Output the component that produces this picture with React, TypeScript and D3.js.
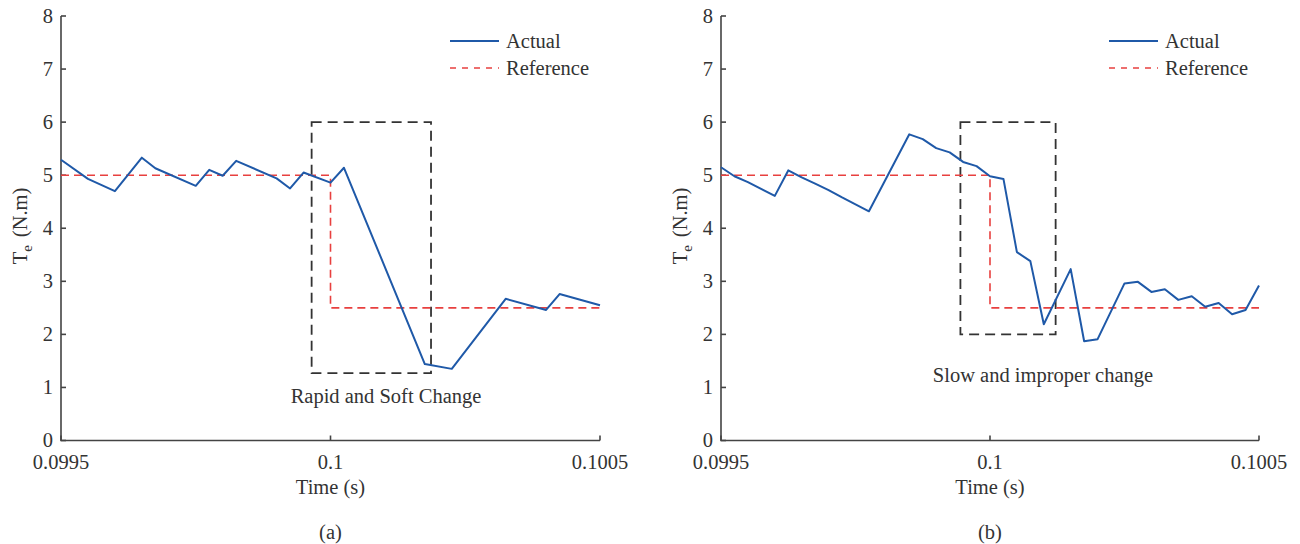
import React from "react";
import * as d3 from "d3";

// Electromagnetic torque response around the step at t = 0.1 s
const leftTime = [
  0.0995, 0.09955, 0.0996, 0.09965, 0.099675, 0.09975, 0.099775, 0.0998, 0.099825, 0.0999,
  0.099925, 0.09995, 0.1, 0.100025, 0.100175, 0.100225, 0.100325, 0.1004, 0.100425, 0.1005,
];
const leftActual = [
  5.29, 4.93, 4.7, 5.33, 5.13, 4.8, 5.1, 4.99, 5.27, 4.94,
  4.75, 5.05, 4.86, 5.14, 1.44, 1.35, 2.67, 2.46, 2.76, 2.55,
];

const rightTime = [
  0.0995, 0.099525, 0.09955, 0.0996, 0.099625, 0.09965, 0.099675, 0.0997, 0.099725, 0.09975,
  0.099775, 0.09985, 0.099875, 0.0999, 0.099925, 0.09995, 0.099975, 0.1, 0.100025, 0.10005,
  0.100075, 0.1001, 0.10015, 0.100175, 0.1002, 0.10025, 0.100275, 0.1003, 0.100325, 0.10035,
  0.100375, 0.1004, 0.100425, 0.10045, 0.100475, 0.1005,
];
const rightActual = [
  5.15, 4.98, 4.87, 4.61, 5.09, 4.96, 4.84, 4.72, 4.58, 4.45,
  4.32, 5.77, 5.68, 5.51, 5.43, 5.25, 5.17, 4.98, 4.93, 3.55,
  3.38, 2.19, 3.23, 1.87, 1.91, 2.96, 2.99, 2.8, 2.85, 2.65,
  2.72, 2.52, 2.59, 2.38, 2.46, 2.92,
];

// Reference torque step
const refTime = [0.0995, 0.1, 0.1, 0.1005];
const refValue = [5, 5, 2.5, 2.5];

const xTicks = [0.0995, 0.1, 0.1005];
const xTickLabels = ["0.0995", "0.1", "0.1005"];
const yTicks = [0, 1, 2, 3, 4, 5, 6, 7, 8];

// Highlight windows [t0, t1, v0, v1]
const leftWindow = [0.099965, 0.1001865, 1.27, 6.0];
const rightWindow = [0.099945, 0.100122, 2.0, 6.0];

const seriesNames = ["Actual", "Reference"];

const FONT = "'Liberation Serif', 'Times New Roman', serif";
const FS = 20.5;
const TEXT = "#333";
const AXIS = "#444";
const BLUE = "#1f59a8";
const RED = "#e8403f";

type PanelProps = {
  x0: number;
  x1: number;
  time: number[];
  actual: number[];
  win: number[];
  note: string;
  noteX: number;
  noteY: number;
  tag: string;
};

function Panel({ x0, x1, time, actual, win, note, noteX, noteY, tag }: PanelProps) {
  const x = d3.scaleLinear().domain([0.0995, 0.1005]).range([x0, x1]);
  const y = d3.scaleLinear().domain([0, 8]).range([440.5, 16]);
  const line = d3
    .line<[number, number]>()
    .x((d) => x(d[0]))
    .y((d) => y(d[1]));
  const actualPts = time.map((t, i) => [t, actual[i]] as [number, number]);
  const refPts = refTime.map((t, i) => [t, refValue[i]] as [number, number]);
  const mid = x(0.1);
  const legX = x1 - 150;

  return (
    <g fontFamily={FONT} fill={TEXT}>
      {/* axes */}
      <path
        d={`M${x0},${y(8)}V${y(0)}H${x1}`}
        fill="none"
        stroke={AXIS}
        strokeWidth={1.6}
      />
      {yTicks.map((v) => (
        <g key={v}>
          <line x1={x0} x2={x0 + 5} y1={y(v)} y2={y(v)} stroke={AXIS} strokeWidth={1.6} />
          <text x={x0 - 8} y={y(v) + 6.5} textAnchor="end" fontSize={FS}>
            {v}
          </text>
        </g>
      ))}
      {xTicks.map((t, i) => (
        <g key={t}>
          <line x1={x(t)} x2={x(t)} y1={y(0)} y2={y(0) - 5} stroke={AXIS} strokeWidth={1.6} />
          <text x={x(t)} y={469} textAnchor="middle" fontSize={FS}>
            {xTickLabels[i]}
          </text>
        </g>
      ))}
      <text x={mid} y={494} textAnchor="middle" fontSize={FS}>
        Time (s)
      </text>
      <text x={mid} y={539} textAnchor="middle" fontSize={FS}>
        {tag}
      </text>
      <text
        transform={`translate(${x0 - 34},${226}) rotate(-90)`}
        textAnchor="middle"
        fontSize={FS}
      >
        T<tspan fontSize={15} dy={5}>e</tspan>
        <tspan dy={-5} dx={8}>(N.m)</tspan>
      </text>

      {/* highlight window */}
      <rect
        x={x(win[0])}
        y={y(win[3])}
        width={x(win[1]) - x(win[0])}
        height={y(win[2]) - y(win[3])}
        fill="none"
        stroke="#333"
        strokeWidth={1.8}
        strokeDasharray="10,6"
      />

      {/* series */}
      <path d={line(refPts) ?? ""} fill="none" stroke={RED} strokeWidth={1.6} strokeDasharray="8,5" />
      <path d={line(actualPts) ?? ""} fill="none" stroke={BLUE} strokeWidth={2} strokeLinejoin="round" />

      <text x={noteX} y={noteY} textAnchor="middle" fontSize={FS}>
        {note}
      </text>

      {/* legend */}
      <line x1={legX} x2={legX + 49} y1={41} y2={41} stroke={BLUE} strokeWidth={2} />
      <text x={legX + 56} y={48} fontSize={FS}>
        {seriesNames[0]}
      </text>
      <line
        x1={legX}
        x2={legX + 49}
        y1={68}
        y2={68}
        stroke={RED}
        strokeWidth={1.6}
        strokeDasharray="6,6"
      />
      <text x={legX + 56} y={75} fontSize={FS}>
        {seriesNames[1]}
      </text>
    </g>
  );
}

export default function App() {
  return (
    <svg
      width={1300}
      height={544}
      style={{ position: "absolute", left: 0, top: 0, background: "#fff" }}
    >
      <Panel
        x0={61}
        x1={600}
        time={leftTime}
        actual={leftActual}
        win={leftWindow}
        note="Rapid and Soft Change"
        noteX={386}
        noteY={403}
        tag="(a)"
      />
      <Panel
        x0={721}
        x1={1259}
        time={rightTime}
        actual={rightActual}
        win={rightWindow}
        note="Slow and improper change"
        noteX={1043}
        noteY={382}
        tag="(b)"
      />
    </svg>
  );
}
